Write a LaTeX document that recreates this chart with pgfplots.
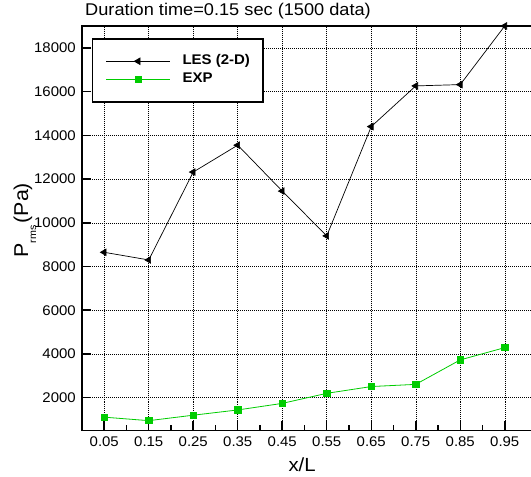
\documentclass[border=0pt]{standalone}
\usepackage{fontspec}
\setmainfont{Liberation Sans}[FakeStretch=1.07]
\usepackage{pgfplots}
\pgfplotsset{compat=1.18}
\definecolor{expgreen}{RGB}{0,204,0}
\begin{document}
\begin{tikzpicture}[x=1pt,y=1pt]
\clip (-82,-46.5) rectangle (449,430.5);
\begin{axis}[
  at={(0,0)}, anchor=south west, scale only axis,
  width=467.25pt, height=404.5pt,
  xmin=0, xmax=1.05, ymin=500, ymax=19000,
  clip mode=individual,
  scaled y ticks=false,
  xtick={0.05,0.15,0.25,0.35,0.45,0.55,0.65,0.75,0.85,0.95},
  xticklabels={0.05,0.15,0.25,0.35,0.45,0.55,0.65,0.75,0.85,0.95},
  minor xtick={0.1,0.2,0.3,0.4,0.5,0.6,0.7,0.8,0.9},
  ytick={2000,4000,6000,8000,10000,12000,14000,16000,18000},
  yticklabels={2000,4000,6000,8000,10000,12000,14000,16000,18000},
  xtick pos=lower, ytick pos=left,
  tick align=inside,
  grid=major,
  major grid style={black, line width=0.5pt, dash pattern=on 1pt off 1pt},
  axis line style={line width=1.6pt},
  every tick/.style={black, line width=1.5pt},
  major tick length=9pt, minor tick length=5pt,
  tick label style={font=\fontsize{14}{16}\selectfont},
  yticklabel style={inner sep=0pt, xshift=-6pt},
  xticklabel style={inner sep=0pt, yshift=-6pt},
  title={Duration time=0.15 sec (1500 data)},
  title style={at={(axis description cs:0,1)}, anchor=base west, inner sep=0pt, xshift=3pt, yshift=4.3pt, font=\fontsize{17}{20}\selectfont},
  xlabel={x/L},
  xlabel style={at={(axis description cs:0.471,0)}, anchor=north, inner sep=0pt, yshift=-26.8pt, font=\fontsize{19}{22}\selectfont},
  ylabel={P\raisebox{-0.4em}{\fontsize{10}{12}\selectfont rms}\hspace{2pt}(Pa)},
  ylabel style={at={(axis description cs:-0.147,0.52)}, anchor=north, inner sep=0pt, font=\fontsize{20}{23}\selectfont},
  legend style={at={(axis description cs:0.0214,0.9703)}, anchor=north west, draw=black, line width=1.5pt, fill=white,
    inner xsep=13pt, inner ysep=15pt, row sep=3pt,
    font=\bfseries\fontsize{14}{16}\selectfont,
    nodes={inner sep=0pt, text height=11pt, text depth=4pt}},
  legend cell align=left,
  legend image code/.code={\draw[mark repeat=2, mark phase=2, #1] plot coordinates {(0pt,0pt) (32pt,0pt) (64pt,0pt)};\path (76pt,0pt);},
]
\addplot[black, line width=0.7pt, mark=triangle*, mark size=3.8pt, mark options={rotate=90, solid, fill=black}] coordinates {
(0.05,8650) (0.15,8300) (0.25,12320) (0.35,13550) (0.45,11450) (0.55,9400) (0.65,14400) (0.75,16260) (0.85,16320) (0.95,19000)};
\addlegendentry{LES (2-D)}
\addplot[expgreen, line width=0.8pt, mark=square*, mark size=3.2pt, mark options={solid, fill=expgreen}] coordinates {
(0.05,1110) (0.15,950) (0.25,1200) (0.35,1440) (0.45,1740) (0.55,2200) (0.65,2510) (0.75,2610) (0.85,3730) (0.95,4290)};
\addlegendentry{EXP}
\end{axis}
\end{tikzpicture}
\end{document}
